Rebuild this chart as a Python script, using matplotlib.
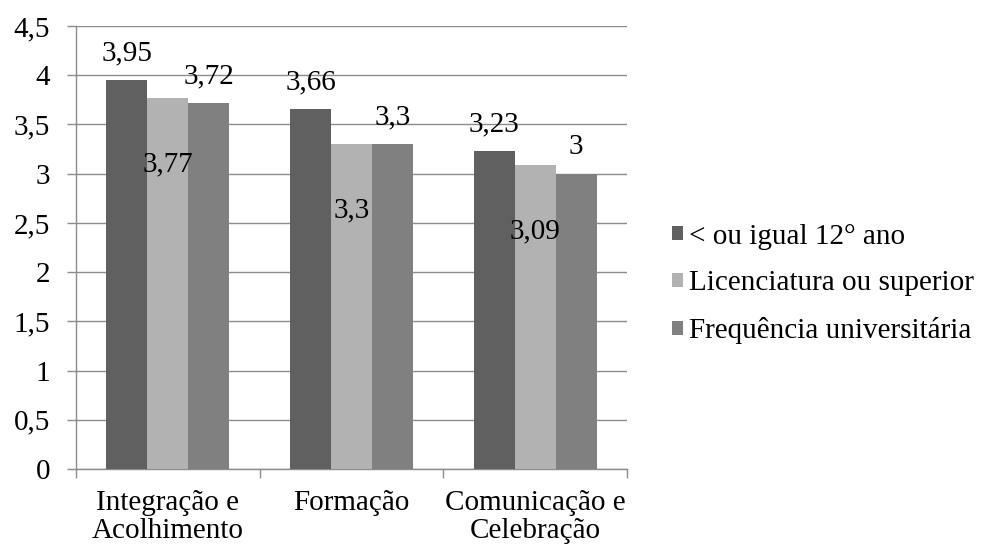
import matplotlib
matplotlib.use("Agg")
import matplotlib.pyplot as plt
from matplotlib.patches import Patch
import numpy as np

plt.rcParams['font.family'] = ['Liberation Serif', 'DejaVu Serif']

categories = ["Integração e\nAcolhimento", "Formação", "Comunicação e\nCelebração"]
series_names = ["< ou igual 12° ano", "Licenciatura ou superior", "Frequência universitária"]
ate_12 = [3.95, 3.66, 3.23]
licenciatura = [3.77, 3.30, 3.09]
frequencia = [3.72, 3.30, 3.00]
value_labels = [["3,95", "3,66", "3,23"], ["3,77", "3,3", "3,09"], ["3,72", "3,3", "3"]]
yticks = [0, 0.5, 1, 1.5, 2, 2.5, 3, 3.5, 4, 4.5]
ytick_labels = ["0", "0,5", "1", "1,5", "2", "2,5", "3", "3,5", "4", "4,5"]

colors = ["#606060", "#b2b2b2", "#808080"]
grid_col = "#8c8c8c"
fs = 21

fig = plt.figure(figsize=(9.83, 5.44), dpi=100)
ax = fig.add_axes([76 / 983, 1 - 469 / 544, 551 / 983, 443 / 544])

x = np.arange(len(categories))
w = 0.223
series = [ate_12, licenciatura, frequencia]
# label offsets (points): first and last series above the bar, middle one inside
offsets = [19, -48, 19]
for i, vals in enumerate(series):
    pos = x + (i - 1) * w
    ax.bar(pos, vals, width=w, color=colors[i], zorder=3, label=series_names[i])
    for p, v, t in zip(pos, vals, value_labels[i]):
        ax.annotate(t, (p, v), xytext=(0, offsets[i]), textcoords="offset points",
                    ha="center", va="center", fontsize=fs, color="black", zorder=5)

ax.set_xlim(-0.5, 2.5)
ax.set_ylim(0, 4.5)
ax.set_yticks(yticks)
ax.set_yticklabels(ytick_labels, fontsize=fs)
ax.yaxis.grid(True, color=grid_col, linewidth=1.0, zorder=0)
ax.set_axisbelow(True)

ax.set_xticks([-0.5, 0.5, 1.5, 2.5])
ax.set_xticklabels([])
ax.set_xticks(x, minor=True)
ax.set_xticklabels(categories, minor=True, fontsize=fs, linespacing=1.12)
ax.tick_params(axis="x", which="minor", length=0, pad=15)
ax.tick_params(axis="x", which="major", length=6.5, color=grid_col, width=1)
ax.tick_params(axis="y", length=6.5, color=grid_col, width=1, pad=12)

for s in ["top", "right"]:
    ax.spines[s].set_visible(False)
for s in ["left", "bottom"]:
    ax.spines[s].set_color(grid_col)
    ax.spines[s].set_linewidth(1.0)

handles = [Patch(facecolor=c) for c in colors]
fig.legend(handles, series_names, loc="center left", bbox_to_anchor=(660 / 983, 1 - 284 / 544),
           frameon=False, fontsize=fs, handlelength=0.38, handleheight=0.38,
           handletextpad=0.2, labelspacing=0.72, borderaxespad=0)

fig.savefig("out.png", dpi=100)
